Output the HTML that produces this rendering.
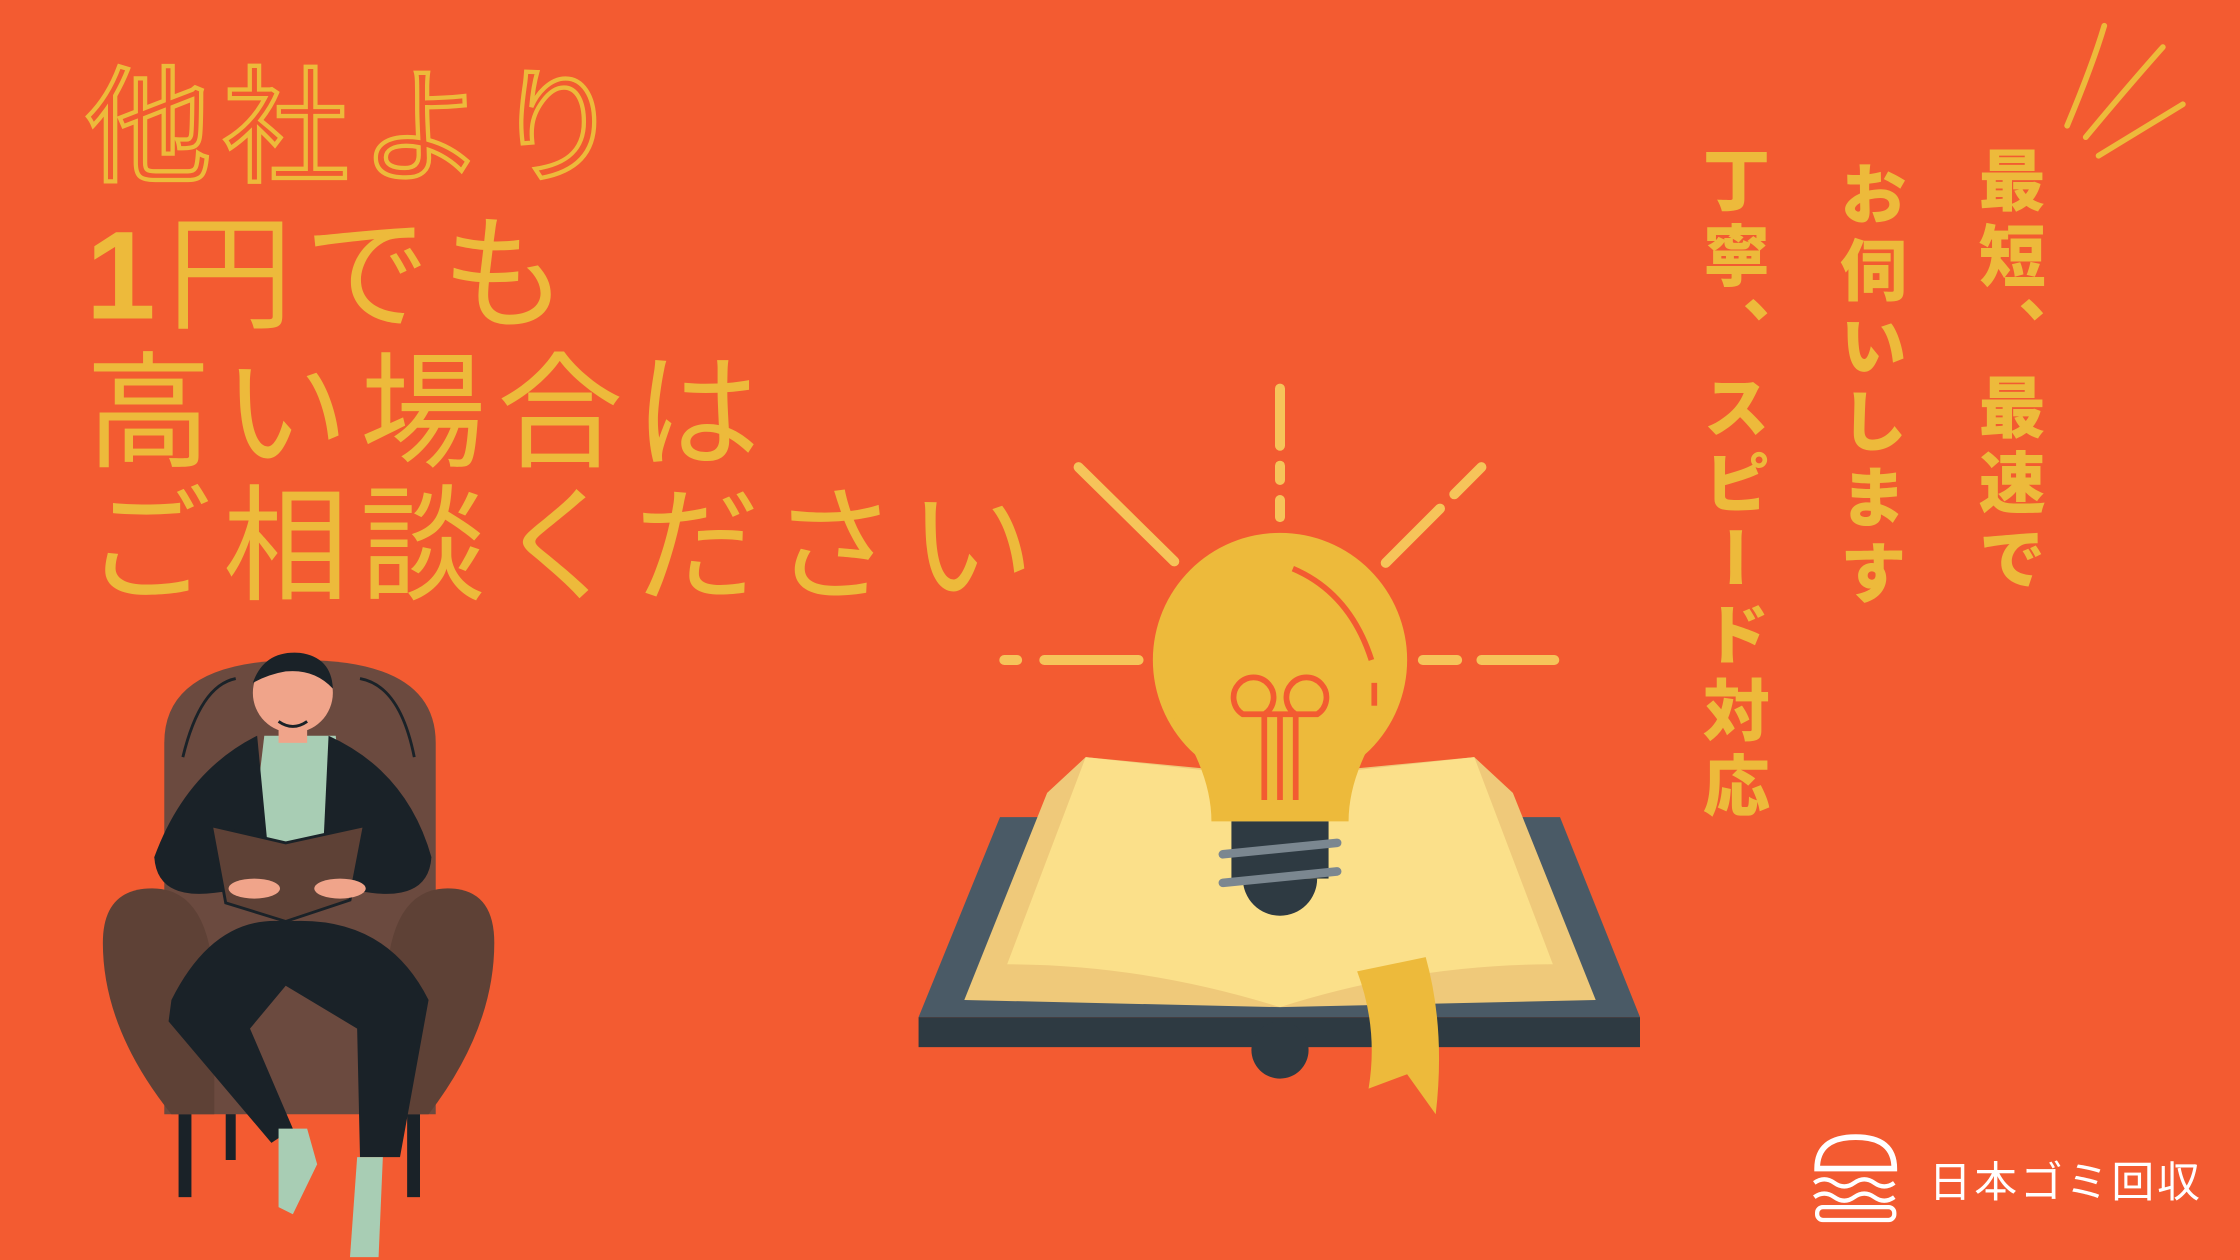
<!DOCTYPE html>
<html><head><meta charset="utf-8">
<style>
html,body{margin:0;padding:0;width:2240px;height:1260px;overflow:hidden;background:#F35B31;}
#stage{position:absolute;left:0;top:0;width:1568px;height:882px;transform:scale(1.428571);transform-origin:0 0;background:#F35B31;font-family:"Liberation Sans","Noto Sans CJK JP",sans-serif;}
.h{position:absolute;left:60px;color:#EDBA3B;font-size:88px;line-height:1;white-space:nowrap;font-weight:400;letter-spacing:8px;}
.v{position:absolute;top:100px;writing-mode:vertical-rl;color:#EDBA3B;font-size:47px;font-weight:900;letter-spacing:6px;line-height:1;white-space:nowrap;}
</style></head>
<body>
<div id="stage">
<div class="h" style="top:46px;color:transparent;-webkit-text-stroke:3px #EDBA3B;">他社より</div>
<div class="h" style="top:149px;"><b style="font-weight:900">1</b>円でも</div>
<div class="h" style="top:246px;">高い場合は</div>
<div class="h" style="top:339px;">ご相談ください</div>

<div class="v" style="left:1381px;top:102px;">最短、最速で</div>
<div class="v" style="left:1284px;top:112px;">お伺いします</div>
<div class="v" style="left:1188px;top:102px;">丁寧、スピード対応</div>

<svg width="1568" height="882" viewBox="0 0 1568 882" style="position:absolute;left:0;top:0">
<g stroke="#EDBA3B" stroke-width="4" stroke-linecap="round" fill="none">
<path d="M1473 18 Q1465 45 1447 88"/><path d="M1514 33 Q1490 60 1460 96"/><path d="M1528 73 Q1500 90 1469 109"/>
</g>
<g stroke="#F6C45A" stroke-width="7" stroke-linecap="round">
<line x1="896" y1="272" x2="896" y2="312"/><line x1="896" y1="326" x2="896" y2="336"/><line x1="896" y1="350" x2="896" y2="362"/>
<line x1="755" y1="327" x2="822" y2="393"/>
<line x1="1037" y1="327" x2="1018" y2="346"/><line x1="1008" y1="356" x2="970" y2="394"/>
<line x1="703" y1="462" x2="712" y2="462"/><line x1="731" y1="462" x2="797" y2="462"/>
<line x1="996" y1="462" x2="1020" y2="462"/><line x1="1037" y1="462" x2="1088" y2="462"/>
</g>
<g>
<polygon points="700,572 1092,572 1148,712 643,712" fill="#4A5A66"/>
<rect x="643" y="712" width="505" height="21" fill="#2E3A42"/>
<circle cx="896" cy="735" r="20" fill="#2E3A42"/>
<polygon points="733,555 760,530 896,543 896,705 675,700" fill="#EFC97A"/>
<polygon points="1059,555 1032,530 896,543 896,705 1117,700" fill="#EFC97A"/>
<path d="M760,530 L896,545 L896,705 Q800,675 705,675 Z" fill="#FBE08A"/>
<path d="M1032,530 L896,545 L896,705 Q990,675 1087,675 Z" fill="#FBE08A"/>
<path d="M950,680 L998,670 Q1012,720 1005,780 L985,752 L958,762 Q965,720 950,680Z" fill="#EDBA3B"/>
</g>
<g>
<circle cx="896" cy="462" r="89" fill="#EDBA3B"/>
<path d="M820,500 Q848,540 848,575 L944,575 Q944,540 972,500 Z" fill="#EDBA3B"/>
<path d="M905,398 Q945,415 960,462" stroke="#F35B31" stroke-width="4" fill="none"/>
<line x1="962" y1="478" x2="962" y2="494" stroke="#F35B31" stroke-width="4"/>
<g stroke="#F35B31" stroke-width="4" fill="none">
<path d="M885,560 L885,500 A14,14 0 1 0 870,500 L922,500 A14,14 0 1 0 907,500 L907,560"/>
<line x1="896" y1="500" x2="896" y2="560"/>
</g>
<rect x="862" y="575" width="68" height="40" fill="#2E3A42"/>
<path d="M870,615 A26,26 0 0 0 922,615 Z" fill="#2E3A42"/>
<g stroke="#7B8790" stroke-width="6" stroke-linecap="round"><line x1="856" y1="598" x2="936" y2="590"/><line x1="856" y1="618" x2="936" y2="610"/></g>
</g>
<g>
<rect x="125" y="770" width="9" height="68" fill="#1A2228"/><rect x="285" y="770" width="9" height="68" fill="#1A2228"/><rect x="158" y="770" width="7" height="42" fill="#1A2228"/>
<path d="M115,520 Q115,462 210,462 Q305,462 305,520 L305,780 L115,780 Z" fill="#6B4A3F"/>
<path d="M72,660 Q72,620 110,622 Q150,625 150,700 L150,780 L120,780 Q72,720 72,660Z" fill="#5E4136"/>
<path d="M346,660 Q346,620 310,622 Q270,625 270,700 L270,780 L300,780 Q346,720 346,660Z" fill="#5E4136"/>
<path d="M128,530 Q140,480 165,475" stroke="#1A2228" stroke-width="2" fill="none"/><path d="M290,530 Q280,480 252,475" stroke="#1A2228" stroke-width="2" fill="none"/>
<path d="M185,515 L235,515 L245,600 L175,600 Z" fill="#A8CDB4"/>
<path d="M180,515 Q130,540 108,600 Q110,630 150,625 L190,620 Z" fill="#1A2228"/>
<path d="M230,515 Q285,540 302,600 Q300,630 260,625 L225,620 Z" fill="#1A2228"/>
<path d="M120,700 Q150,640 200,645 Q270,640 300,700 L280,810 L252,810 L250,720 L200,690 L175,720 L205,790 L190,800 L118,715 Z" fill="#1A2228"/>
<path d="M195,790 L215,790 L222,815 L205,850 L195,845 Z" fill="#A8CDB4"/><path d="M250,810 L268,810 L265,880 L245,880 Z" fill="#A8CDB4"/>
<polygon points="148,578 200,590 255,578 245,630 200,645 158,632" fill="#5E4136" stroke="#1A2228" stroke-width="2"/>
<ellipse cx="178" cy="622" rx="18" ry="7" fill="#F0A48A"/><ellipse cx="238" cy="622" rx="18" ry="7" fill="#F0A48A"/>
<rect x="195" y="500" width="20" height="20" fill="#F0A48A"/>
<circle cx="205" cy="485" r="28" fill="#F0A48A"/>
<path d="M177,478 Q185,455 210,457 Q232,460 233,482 Q220,468 200,470 Q188,472 177,478Z" fill="#1A2228"/>
<path d="M195,505 Q205,512 215,505" stroke="#1A2228" stroke-width="2" fill="none"/>
</g>
<g>
<path d="M1272,818 Q1272,796 1299,796 Q1326,796 1326,818 Z" fill="none" stroke="#fff" stroke-width="4"/>
<path d="M1270,828 q7,-5 14,0 t14,0 t14,0 t14,0 M1270,838 q7,-5 14,0 t14,0 t14,0 t14,0" stroke="#fff" stroke-width="3" fill="none"/>
<rect x="1272" y="845" width="54" height="9" rx="4" fill="none" stroke="#fff" stroke-width="3"/>
<text x="1350" y="838" fill="#fff" font-size="30" font-family="Liberation Sans, Noto Sans CJK JP, sans-serif" letter-spacing="2">日本ゴミ回収</text>
</g>
</svg>
</div>
</body></html>
